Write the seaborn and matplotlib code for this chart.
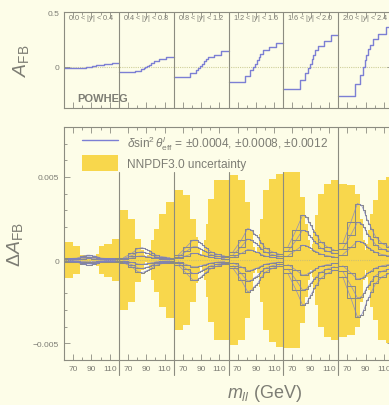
import numpy as np
import pandas as pd
import matplotlib
matplotlib.use("Agg")
import matplotlib.pyplot as plt
import seaborn as sns
from matplotlib.lines import Line2D
from matplotlib.patches import Patch

# ---------------- data ----------------
mass_edges = [60, 70, 78, 84, 87, 89, 91, 93, 95, 98, 104, 112, 120]
rapidity_labels = ["0.0 < |$y$| < 0.4", "0.4 < |$y$| < 0.8", "0.8 < |$y$| < 1.2",
                   "1.2 < |$y$| < 1.6", "1.6 < |$y$| < 2.0", "2.0 < |$y$| < 2.4"]

# A_FB (POWHEG) per mass bin, per rapidity bin
afb_y1 = [-0.01, -0.01, -0.008, -0.005, -0.002, 0.0, 0.005, 0.01, 0.015, 0.02, 0.028, 0.035]
afb_y2 = [-0.045, -0.045, -0.035, -0.02, -0.01, 0.0, 0.01, 0.02, 0.035, 0.05, 0.07, 0.09]
afb_y3 = [-0.09, -0.09, -0.06, -0.03, -0.01, 0.01, 0.03, 0.05, 0.07, 0.09, 0.11, 0.14]
afb_y4 = [-0.14, -0.14, -0.08, -0.03, 0.0, 0.03, 0.06, 0.09, 0.12, 0.15, 0.18, 0.22]
afb_y5 = [-0.20, -0.20, -0.12, -0.06, -0.01, 0.03, 0.07, 0.11, 0.15, 0.19, 0.24, 0.29]
afb_y6 = [-0.27, -0.27, -0.16, -0.07, 0.0, 0.06, 0.11, 0.16, 0.20, 0.25, 0.30, 0.36]

# NNPDF3.0 uncertainty half-width (units of 1e-3)
nnpdf_y1 = [1.1, 0.85, 0.3, 0.15, 0.1, 0.05, 0.1, 0.15, 0.35, 0.85, 1.0, 1.25]
nnpdf_y2 = [3.0, 2.5, 1.3, 0.6, 0.3, 0.1, 0.3, 0.6, 1.2, 1.9, 2.8, 3.5]
nnpdf_y3 = [4.2, 3.9, 2.5, 1.4, 0.7, 0.3, 0.6, 1.2, 2.2, 3.7, 4.8, 4.8]
nnpdf_y4 = [5.1, 4.8, 3.5, 1.8, 0.8, 0.5, 0.8, 1.6, 2.5, 4.2, 4.9, 5.2]
nnpdf_y5 = [5.3, 5.3, 3.8, 2.2, 1.2, 0.6, 1.0, 1.8, 2.7, 4.0, 4.6, 4.8]
nnpdf_y6 = [4.6, 4.5, 4.0, 2.5, 1.2, 0.6, 1.0, 1.8, 2.8, 3.6, 4.8, 5.0]

# |Delta A_FB| for delta sin2theta = 0.0012 (units of 1e-3)
dsin_y1 = [0.1, 0.12, 0.25, 0.3, 0.3, 0.28, 0.25, 0.25, 0.2, 0.12, 0.1, 0.1]
dsin_y2 = [0.15, 0.4, 0.7, 0.75, 0.7, 0.65, 0.6, 0.55, 0.45, 0.3, 0.2, 0.15]
dsin_y3 = [0.3, 0.8, 1.2, 1.2, 1.1, 1.0, 0.9, 0.8, 0.7, 0.5, 0.35, 0.25]
dsin_y4 = [0.5, 1.2, 1.9, 1.8, 1.6, 1.5, 1.4, 1.2, 1.0, 0.7, 0.5, 0.35]
dsin_y5 = [0.8, 1.8, 2.7, 2.6, 2.3, 2.1, 1.9, 1.7, 1.5, 1.1, 0.8, 0.6]
dsin_y6 = [1.0, 2.3, 3.4, 3.3, 3.0, 2.7, 2.4, 2.2, 1.9, 1.4, 1.0, 0.8]
dsin_ref = 0.0012
dsin_values = [0.0004, 0.0008, 0.0012]

afb_all = [afb_y1, afb_y2, afb_y3, afb_y4, afb_y5, afb_y6]
nnpdf_all = [nnpdf_y1, nnpdf_y2, nnpdf_y3, nnpdf_y4, nnpdf_y5, nnpdf_y6]
dsin_all = [dsin_y1, dsin_y2, dsin_y3, dsin_y4, dsin_y5, dsin_y6]

# ---------------- style ----------------
BG = "#FDFDE8"
GRAY = "#7d7d74"
FRAME = "#8c8c80"
YELLOW = "#F8D74C"
BLUE = "#7c7fd4"
LGRAY = "#8a8a84"

sns.set_style("ticks")
plt.rcParams["font.family"] = ["Liberation Sans", "DejaVu Sans"]
plt.rcParams["mathtext.fontset"] = "custom"
plt.rcParams["mathtext.rm"] = "Liberation Sans"
plt.rcParams["mathtext.it"] = "Liberation Sans:italic"
plt.rcParams["mathtext.bf"] = "Liberation Sans:bold"

fig = plt.figure(figsize=(3.89, 4.06), dpi=100)
fig.patch.set_facecolor(BG)
W, H = 389.0, 406.0
left_px, right_px = 64, 393
ax1 = fig.add_axes([left_px / W, 1 - 109 / H, (right_px - left_px) / W, 96 / H])
ax2 = fig.add_axes([left_px / W, 1 - 361 / H, (right_px - left_px) / W, 233 / H])

edges = np.array(mass_edges, dtype=float)
centers = 0.5 * (edges[:-1] + edges[1:])
span = 60.0

for ax in (ax1, ax2):
    ax.set_facecolor(BG)
    for s in ax.spines.values():
        s.set_color(FRAME)
        s.set_linewidth(0.8)
    ax.set_xlim(0, 6 * span)
    ax.tick_params(which="both", direction="in", top=True, right=True,
                   color=FRAME, labelcolor=GRAY, labelsize=6, width=0.6)
    ax.tick_params(which="major", length=4)
    ax.tick_params(which="minor", length=2.5)

# ---------------- top panel ----------------
for i, afb in enumerate(afb_all):
    off = i * span - 60
    df = pd.DataFrame({"m": edges + off, "afb": np.append(afb, afb[-1])})
    sns.lineplot(data=df, x="m", y="afb", ax=ax1, color=BLUE, lw=1.0,
                 drawstyle="steps-post", estimator=None, sort=False)
    ax1.text(i * span + span / 2, 0.45, rapidity_labels[i], ha="center", va="center",
             fontsize=5.3, color=GRAY)
    if i > 0:
        ax1.axvline(i * span, color=FRAME, lw=0.8)
ax1.axhline(0, color="#cfcf9a", lw=0.8, ls=(0, (1, 1)), zorder=0)
ax1.set_ylim(-0.375, 0.5)
ax1.set_yticks([0, 0.5])
ax1.set_yticklabels(["0", "0.5"])
ax1.set_ylabel(r"$A_{\rm FB}$", fontsize=14, color=GRAY, labelpad=12)
ax1.text(15, -0.28, "POWHEG", fontsize=8, fontweight="bold", color=GRAY,
         ha="left", va="center")

# ---------------- bottom panel ----------------
legend_bottom_frac = (361 - 173) / 233
for i in range(6):
    off = i * span - 60
    half = np.array(nnpdf_all[i]) * 1e-3
    ax2.fill_between(edges + off, np.append(-half, -half[-1]), np.append(half, half[-1]),
                     step="post", color=YELLOW, lw=0, zorder=1)
    for d in dsin_values:
        scale = d / dsin_ref
        for sgn in (1, -1):
            v = sgn * np.array(dsin_all[i]) * 1e-3 * scale
            ax2.step(edges + off, np.append(v, v[-1]), where="post", color=LGRAY,
                     lw=0.75, zorder=2)
            dfb = pd.DataFrame({"m": centers + off, "d": v})
            sns.lineplot(data=dfb, x="m", y="d", ax=ax2, color=BLUE, lw=0.5,
                         estimator=None, sort=False, zorder=3, alpha=0.85)
    if i > 0:
        top = legend_bottom_frac if i < 5 else 1.0
        ax2.axvline(i * span, ymin=-0.065, ymax=top, color=FRAME, lw=0.8, clip_on=False,
                    zorder=4)
ax2.axhline(0, color="#d0c070", lw=0.8, ls=(0, (1, 1)), zorder=2.5)
ax2.set_ylim(-0.006, 0.008)
ax2.set_yticks([-0.005, 0, 0.005])
ax2.set_yticklabels(["\u22120.005", "0", "0.005"])
ax2.set_yticks(np.arange(-0.006, 0.0081, 0.001), minor=True)
ax2.set_ylabel(r"$\Delta A_{\rm FB}$", fontsize=14, color=GRAY, labelpad=6)

# x ticks per panel
major, minor, labels = [], [], []
for i in range(6):
    for m in (70, 90, 110):
        major.append(i * span + m - 60)
        labels.append(str(m))
    for m in (80, 100):
        minor.append(i * span + m - 60)
for ax in (ax1, ax2):
    ax.set_xticks(major)
    ax.set_xticks(minor, minor=True)
    ax.set_xlabel("")
ax1.set_xticklabels([])
ax2.set_xticklabels(labels)
ax2.set_xlabel(r"$m_{ll}$ (GeV)", fontsize=13, color=GRAY, labelpad=4)
ax2.xaxis.set_label_coords((265 - left_px) / (right_px - left_px), -0.095)

handles = [Line2D([0], [0], color=BLUE, lw=1.0),
           Patch(facecolor=YELLOW, edgecolor="none")]
texts = [r"$\delta\sin^2\theta^{l}_{\rm eff}$ = $\pm$0.0004, $\pm$0.0008, $\pm$0.0012",
         "NNPDF3.0 uncertainty"]
leg = ax2.legend(handles, texts, loc="upper left",
                 bbox_to_anchor=((82 - left_px) / (right_px - left_px), 1 - 6 / 233),
                 frameon=False, fontsize=8.6, handlelength=3.0, handleheight=1.6,
                 labelspacing=0.3, handletextpad=0.75, borderpad=0, borderaxespad=0,
                 labelcolor=GRAY)
leg.set_zorder(10)

fig.savefig("out.png", dpi=100, facecolor=BG)
